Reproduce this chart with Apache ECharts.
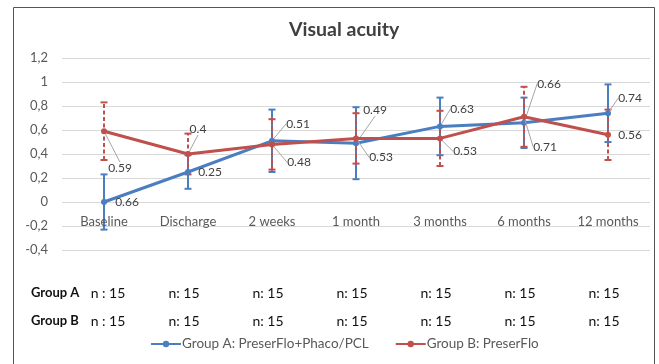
<!DOCTYPE html>
<html>
<head>
<meta charset="utf-8">
<script src="https://cdn.jsdelivr.net/npm/echarts@6/dist/echarts.min.js"></script>
<style>
  html, body { margin: 0; padding: 0; background: #ffffff; }
  #chart { width: 659px; height: 364px; }
</style>
</head>
<body>
<div id="chart"></div>
<script>
// Visual acuity follow-up, two treatment groups
const categories = ['Baseline', 'Discharge', '2 weeks', '1 month', '3 months', '6 months', '12 months'];
const groupA = [0, 0.25, 0.51, 0.49, 0.63, 0.66, 0.74];
const groupB = [0.59, 0.40, 0.48, 0.53, 0.53, 0.71, 0.56];
const sdA = [0.23, 0.14, 0.26, 0.30, 0.24, 0.21, 0.24];
const sdB = [0.24, 0.17, 0.21, 0.21, 0.23, 0.25, 0.21];
const labelsA = ['0.66', '0.25', '0.51', '0.49', '0.63', '0.66', '0.74'];
const labelsB = ['0.59', '0.4', '0.48', '0.53', '0.53', '0.71', '0.56'];
const countA = ['n : 15', 'n: 15', 'n: 15', 'n: 15', 'n: 15', 'n: 15', 'n: 15'];
const countB = ['n : 15', 'n: 15', 'n: 15', 'n: 15', 'n: 15', 'n: 15', 'n: 15'];
const yTicks = { min: -0.4, max: 1.2, step: 0.2 };
const seriesNames = ['Group A: PreserFlo+Phaco/PCL', 'Group B: PreserFlo'];
const rowNames = ['Group A', 'Group B'];

// label placement relative to each point (pixels)
const offA = [[23, 0], [22, 0], [26, -17], [19, -33], [22, -17], [25, -39], [22, -15]];
const offB = [[16, 37], [10, -25], [27, 18], [25, 19], [25, 13], [21, 30], [22, 0]];
const leaderA = [false, false, true, true, true, true, true];
const leaderB = [true, true, true, true, true, true, false];

const BLUE = '#4a7ec0';
const RED = '#c0504d';
const FONT = 'Lato, "Open Sans", sans-serif';

const chart = echarts.init(document.getElementById('chart'), null, { renderer: 'canvas' });

function fmtTick(v) {
  const r = Math.round(v * 10) / 10;
  return String(r).replace('.', ',');
}

function errData(vals, sd) {
  return vals.map((v, i) => [i, v - sd[i], v + sd[i]]);
}

function errSeries(vals, sd, color, dashed) {
  return {
    type: 'custom',
    z: dashed ? 4 : 3,
    silent: true,
    data: errData(vals, sd),
    renderItem: function (params, api) {
      const idx = api.value(0);
      const lo = api.coord([idx, api.value(1)]);
      const hi = api.coord([idx, api.value(2)]);
      const hw = 3.5;
      const style = { stroke: color, lineWidth: 2, lineDash: dashed ? [4, 2.5] : null };
      const cap = { stroke: color, lineWidth: 2 };
      return {
        type: 'group',
        children: [
          { type: 'line', shape: { x1: lo[0], y1: lo[1], x2: hi[0], y2: hi[1] }, style: style },
          { type: 'line', shape: { x1: lo[0] - hw, y1: lo[1], x2: lo[0] + hw, y2: lo[1] }, style: cap },
          { type: 'line', shape: { x1: hi[0] - hw, y1: hi[1], x2: hi[0] + hw, y2: hi[1] }, style: cap }
        ]
      };
    }
  };
}

function lineSeries(name, vals, labels, offs, leaders, color, z) {
  return {
    name: name,
    type: 'line',
    z: z,
    symbol: 'circle',
    symbolSize: 6,
    lineStyle: { color: color, width: 3 },
    itemStyle: { color: color },
    data: vals.map((v, i) => ({
      value: v,
      labelLine: { show: leaders[i] }
    })),
    label: {
      show: true,
      position: 'inside',
      formatter: p => labels[p.dataIndex],
      color: '#404040',
      fontSize: 12,
      fontFamily: FONT
    },
    labelLine: { show: true, lineStyle: { color: '#a6a6a6', width: 1 } },
    labelLayout: function (params) {
      const o = offs[params.dataIndex];
      const r = params.rect;
      return {
        x: r.x + r.width / 2 + o[0],
        y: r.y + r.height / 2 + o[1],
        align: 'center',
        verticalAlign: 'middle'
      };
    }
  };
}

const option = {
  backgroundColor: '#ffffff',
  animation: false,
  title: {
    text: 'Visual acuity',
    left: 284,
    top: 15,
    textStyle: { fontSize: 19.5, fontWeight: 'bold', color: '#404040', fontFamily: FONT }
  },
  grid: { left: 62, right: 9, top: 58, bottom: 114, containLabel: false },
  legend: {
    data: seriesNames,
    left: 145,
    top: 332,
    itemWidth: 30,
    itemHeight: 8,
    itemGap: 26,
    textStyle: { color: '#595959', fontSize: 13.5, fontFamily: FONT, padding: [0, 0, 0, -4] }
  },
  xAxis: {
    type: 'category',
    data: categories,
    boundaryGap: true,
    position: 'bottom',
    // category names sit just under the zero line, inside the plot
    offset: -48,
    z: 10,
    axisLine: { show: false, onZero: false },
    axisTick: { show: false },
    axisLabel: { color: '#595959', fontSize: 13, fontFamily: FONT, margin: 13 },
    splitLine: { show: false }
  },
  yAxis: {
    type: 'value',
    min: yTicks.min,
    max: yTicks.max,
    interval: yTicks.step,
    axisLine: { show: false },
    axisTick: { show: false },
    axisLabel: { color: '#595959', fontSize: 13, fontFamily: FONT, margin: 14, formatter: fmtTick },
    splitLine: { lineStyle: { color: '#d9d9d9', width: 1 } }
  },
  series: [
    errSeries(groupA, sdA, BLUE, false),
    errSeries(groupB, sdB, RED, true),
    lineSeries(seriesNames[0], groupA, labelsA, offA, leaderA, BLUE, 5),
    lineSeries(seriesNames[1], groupB, labelsB, offB, leaderB, RED, 6)
  ],
  graphic: [
    {
      type: 'rect',
      silent: true,
      shape: { x: 13.5, y: 7.5, width: 641, height: 400 },
      style: { fill: null, stroke: '#555555', lineWidth: 1 }
    }
  ]
};

chart.setOption(option);

// Patient count table under the plot, aligned with the category positions
const rowY = [293, 321];
const tableItems = [];
[countA, countB].forEach((row, r) => {
  tableItems.push({
    type: 'text',
    silent: true,
    x: 31,
    y: rowY[r],
    style: {
      text: rowNames[r],
      fill: '#111111',
      font: 'bold 13px ' + FONT,
      verticalAlign: 'middle',
      align: 'left'
    }
  });
  row.forEach((t, i) => {
    const px = chart.convertToPixel({ xAxisIndex: 0 }, i);
    tableItems.push({
      type: 'text',
      silent: true,
      x: px + (i === 0 ? 4 : -4),
      y: rowY[r],
      style: {
        text: t,
        fill: '#111111',
        font: '14px ' + FONT,
        verticalAlign: 'middle',
        align: 'center'
      }
    });
  });
});
chart.setOption({ graphic: option.graphic.concat(tableItems) }, { replaceMerge: ['graphic'] });
</script>
</body>
</html>
